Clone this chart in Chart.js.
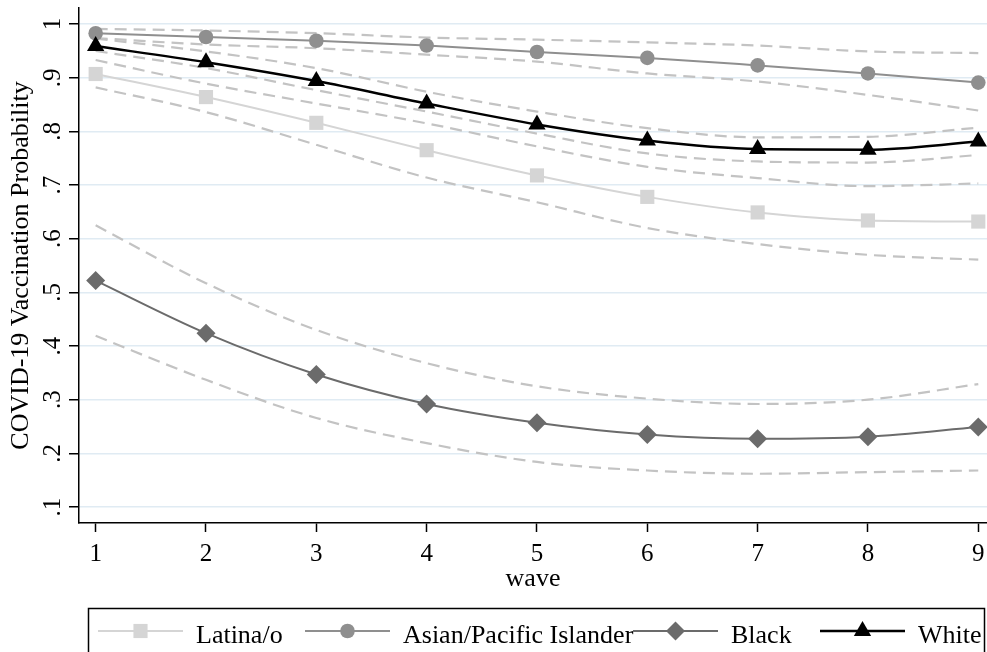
<!DOCTYPE html>
<html>
<head>
<meta charset="utf-8">
<title>COVID-19 Vaccination Probability by wave</title>
<script src="https://cdn.jsdelivr.net/npm/chart.js@4.4.1/dist/chart.umd.min.js"></script>
<style>
  html, body { margin: 0; padding: 0; background: #fff; }
  #chart { display: block; }
</style>
</head>
<body>
<canvas id="chart" width="987" height="652"></canvas>
<script>
// values
const waves = [1, 2, 3, 4, 5, 6, 7, 8, 9];
const xTickLabels = ['1', '2', '3', '4', '5', '6', '7', '8', '9'];
const yTickValues = [0.1, 0.2, 0.3, 0.4, 0.5, 0.6, 0.7, 0.8, 0.9, 1];
const yTickLabels = ['.1', '.2', '.3', '.4', '.5', '.6', '.7', '.8', '.9', '1'];
const groupNames = ['Latina/o', 'Asian/Pacific Islander', 'Black', 'White'];

const latina      = [0.907, 0.864, 0.816, 0.765, 0.718, 0.678, 0.649, 0.634, 0.632];
const latinaUpper = [0.933, 0.889, 0.852, 0.815, 0.772, 0.734, 0.713, 0.698, 0.703];
const latinaLower = [0.882, 0.836, 0.775, 0.714, 0.668, 0.620, 0.590, 0.570, 0.561];

const asian      = [0.983, 0.976, 0.969, 0.960, 0.948, 0.937, 0.923, 0.908, 0.891];
const asianUpper = [0.991, 0.988, 0.983, 0.975, 0.971, 0.966, 0.960, 0.949, 0.946];
const asianLower = [0.974, 0.962, 0.955, 0.943, 0.930, 0.908, 0.893, 0.868, 0.839];

const black      = [0.522, 0.424, 0.347, 0.292, 0.257, 0.235, 0.227, 0.231, 0.249];
const blackUpper = [0.625, 0.517, 0.430, 0.368, 0.325, 0.302, 0.292, 0.300, 0.329];
const blackLower = [0.419, 0.337, 0.266, 0.219, 0.184, 0.168, 0.162, 0.165, 0.168];

const white      = [0.959, 0.929, 0.894, 0.852, 0.813, 0.783, 0.767, 0.766, 0.781];
const whiteUpper = [0.973, 0.949, 0.918, 0.874, 0.837, 0.806, 0.789, 0.790, 0.807];
const whiteLower = [0.950, 0.918, 0.877, 0.837, 0.796, 0.759, 0.744, 0.742, 0.756];

const FONT = "'Liberation Serif', 'Times New Roman', Times, serif";
const CI_COLOR = '#c3c3c3';

function toPoints(values) {
    return waves.map((w, i) => ({ x: w, y: values[i] }));
}

function mainSeries(label, values, color, pointStyle, radius, width, order) {
    return {
        label: label,
        data: toPoints(values),
        borderColor: color,
        backgroundColor: color,
        borderWidth: width,
        pointStyle: pointStyle,
        pointRadius: radius,
        pointHoverRadius: radius,
        pointBorderWidth: 0,
        pointBackgroundColor: color,
        cubicInterpolationMode: 'monotone',
        fill: false,
        order: order
    };
}

function ciSeries(label, values) {
    return {
        label: label,
        data: toPoints(values),
        borderColor: CI_COLOR,
        borderWidth: 2.2,
        borderDash: [12, 7],
        pointRadius: 0,
        pointHoverRadius: 0,
        cubicInterpolationMode: 'monotone',
        fill: false,
        order: 10
    };
}

const datasets = [
    ciSeries('Latina/o upper', latinaUpper),
    ciSeries('Latina/o lower', latinaLower),
    ciSeries('Asian upper', asianUpper),
    ciSeries('Asian lower', asianLower),
    ciSeries('Black upper', blackUpper),
    ciSeries('Black lower', blackLower),
    ciSeries('White upper', whiteUpper),
    ciSeries('White lower', whiteLower),
    mainSeries(groupNames[0], latina, '#d5d5d5', 'rect', 10, 2, 3),
    mainSeries(groupNames[1], asian, '#8f8f8f', 'circle', 7.3, 2, 2),
    mainSeries(groupNames[2], black, '#6b6b6b', 'rectRot', 9.5, 2, 1),
    mainSeries(groupNames[3], white, '#000000', 'triangle', 10, 2.5, 0)
];

// Stata style legend: box at the bottom, line with marker in the middle
const legendBox = {
    id: 'legendBox',
    afterDraw(chart) {
        const ctx = chart.ctx;
        const lineX = [98, 305, 633, 820];
        const lineLen = 85;
        const y = 631;
        ctx.save();
        ctx.strokeStyle = '#000';
        ctx.lineWidth = 1.5;
        ctx.strokeRect(88.5, 608.5, 896, 80);
        ctx.font = '26px ' + FONT;
        ctx.textBaseline = 'alphabetic';
        groupNames.forEach((name, i) => {
            const ds = chart.data.datasets.find(d => d.label === name);
            ctx.strokeStyle = ds.borderColor;
            ctx.lineWidth = ds.borderWidth;
            ctx.setLineDash([]);
            ctx.beginPath();
            ctx.moveTo(lineX[i], y);
            ctx.lineTo(lineX[i] + lineLen, y);
            ctx.stroke();
            ctx.fillStyle = ds.pointBackgroundColor;
            Chart.helpers.drawPoint(ctx, {
                pointStyle: ds.pointStyle,
                radius: ds.pointRadius,
                borderWidth: 0,
                rotation: 0
            }, lineX[i] + lineLen / 2, y);
            ctx.fillStyle = '#000';
            ctx.fillText(name, lineX[i] + 98, 643);
        });
        ctx.restore();
    }
};

const ctx = document.getElementById('chart').getContext('2d');

new Chart(ctx, {
    type: 'line',
    data: { datasets: datasets },
    plugins: [legendBox],
    options: {
        responsive: false,
        animation: false,
        devicePixelRatio: 1,
        layout: {
            autoPadding: false,
            padding: { left: 0, right: 0, top: 8, bottom: 57 }
        },
        plugins: {
            legend: { display: false },
            tooltip: { enabled: false }
        },
        scales: {
            x: {
                type: 'linear',
                min: 0.849,
                max: 9.079,
                afterBuildTicks: (scale) => {
                    scale.ticks = waves.map(w => ({ value: w }));
                },
                afterFit: (scale) => {
                    scale.height = 72;
                    scale.paddingLeft = 0;
                    scale.paddingRight = 0;
                },
                ticks: {
                    autoSkip: false,
                    maxRotation: 0,
                    padding: 7,
                    color: '#000',
                    font: { family: FONT, size: 25 },
                    callback: (value, index) => xTickLabels[index]
                },
                grid: {
                    drawOnChartArea: false,
                    drawTicks: true,
                    tickLength: 9,
                    tickColor: '#000',
                    tickWidth: 1.5
                },
                border: { display: true, color: '#000', width: 1.5 },
                title: {
                    display: true,
                    text: 'wave',
                    color: '#000',
                    font: { family: FONT, size: 26 },
                    padding: { top: 0, bottom: 0 }
                }
            },
            y: {
                type: 'linear',
                min: 0.0702,
                max: 1.030,
                afterBuildTicks: (scale) => {
                    scale.ticks = yTickValues.map(v => ({ value: v }));
                },
                afterFit: (scale) => {
                    scale.width = 79;
                    scale.paddingTop = 0;
                    scale.paddingBottom = 0;
                },
                ticks: {
                    autoSkip: false,
                    minRotation: 90,
                    maxRotation: 90,
                    crossAlign: 'center',
                    padding: 6,
                    color: '#000',
                    font: { family: FONT, size: 25 },
                    callback: (value, index) => yTickLabels[index]
                },
                grid: {
                    color: '#e0ebf3',
                    lineWidth: 1.5,
                    drawTicks: true,
                    tickLength: 10,
                    tickColor: '#000',
                    tickWidth: 1.5
                },
                border: { display: true, color: '#000', width: 1.5 },
                title: {
                    display: true,
                    text: 'COVID-19 Vaccination Probability',
                    color: '#000',
                    font: { family: FONT, size: 26 },
                    padding: { top: 6, bottom: 0 }
                }
            }
        }
    }
});
</script>
</body>
</html>
